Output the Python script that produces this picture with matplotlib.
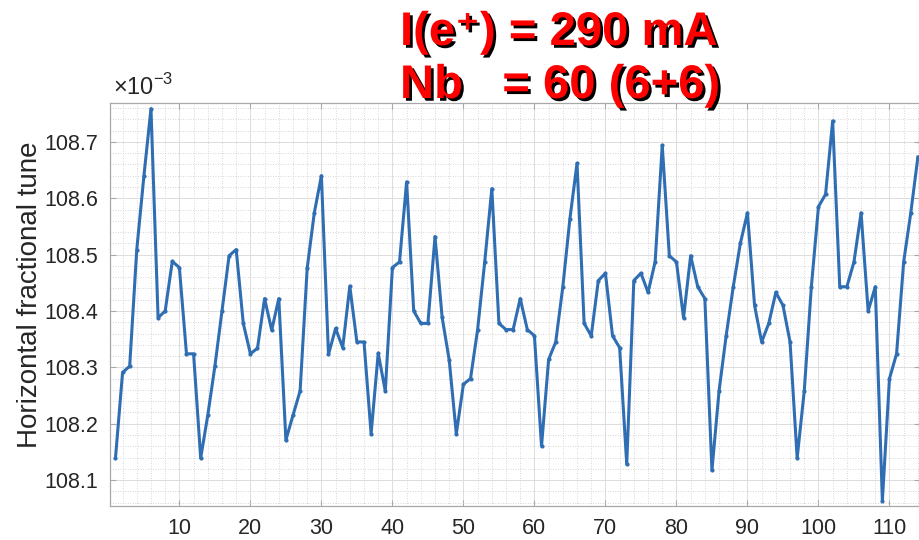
import numpy as np
import matplotlib
matplotlib.use("Agg")
import matplotlib.pyplot as plt
import matplotlib.patheffects as pe
from matplotlib.ticker import MultipleLocator

plt.rcParams['font.family'] = ['Liberation Sans', 'DejaVu Sans']
plt.rcParams['mathtext.fontset'] = 'custom'
plt.rcParams['mathtext.rm'] = 'Liberation Sans'
plt.rcParams['mathtext.bf'] = 'Liberation Sans:bold'

# turn number and horizontal tune (units of 1e-3)
turns = np.arange(1, 115)
tune = [
    108.139, 108.291, 108.302, 108.509, 108.639, 108.759, 108.388, 108.400, 108.488, 108.477,
    108.324, 108.324, 108.139, 108.215, 108.302, 108.400, 108.498, 108.509, 108.378, 108.324,
    108.334, 108.422, 108.366, 108.422, 108.171, 108.215, 108.258, 108.476, 108.574, 108.640,
    108.323, 108.369, 108.335, 108.444, 108.345, 108.345, 108.182, 108.325, 108.258, 108.477,
    108.487, 108.629, 108.400, 108.378, 108.378, 108.532, 108.389, 108.313, 108.182, 108.270,
    108.280, 108.367, 108.487, 108.617, 108.378, 108.367, 108.367, 108.422, 108.367, 108.356,
    108.160, 108.314, 108.345, 108.443, 108.564, 108.662, 108.378, 108.356, 108.454, 108.467,
    108.356, 108.335, 108.128, 108.454, 108.467, 108.433, 108.487, 108.694, 108.498, 108.487,
    108.388, 108.498, 108.443, 108.422, 108.117, 108.258, 108.356, 108.443, 108.520, 108.574,
    108.410, 108.345, 108.378, 108.433, 108.410, 108.345, 108.139, 108.258, 108.443, 108.585,
    108.607, 108.737, 108.443, 108.443, 108.487, 108.574, 108.400, 108.443, 108.063, 108.280,
    108.324, 108.487, 108.574, 108.673,
]
yticks = [108.1, 108.2, 108.3, 108.4, 108.5, 108.6, 108.7]
line1 = "I(e\u207a) = 290 mA"
line2 = "Nb   = 60 (6+6)"

fig = plt.figure(figsize=(9.2, 5.4), dpi=100)
ax = fig.add_axes([110.5 / 920, 34 / 540, (920 - 110.5) / 920, 403 / 540])

ax.plot(turns, tune, color='#2f6eb3', lw=2.2, marker='.', ms=4, zorder=3)

ax.set_xlim(0.3, 114.3)
ax.set_ylim(108.054, 108.769)
ax.xaxis.set_major_locator(MultipleLocator(10))
ax.xaxis.set_minor_locator(MultipleLocator(2))
ax.yaxis.set_minor_locator(MultipleLocator(0.02))
ax.set_yticks(yticks)
ax.set_yticklabels([f"{v:.1f}" for v in yticks])

ax.grid(which='major', color='#dcdcdc', lw=0.7, ls='-')
ax.grid(which='minor', color='#cacaca', lw=0.6, ls=(0, (1, 2)))
ax.set_axisbelow(True)
for s in ax.spines.values():
    s.set_color('#a8a8a8')
    s.set_linewidth(0.9)
ax.tick_params(which='major', direction='in', length=4, width=0.8, color='#a8a8a8',
               top=True, right=True, labelsize=15.5, labelcolor='#262626', pad=9)
ax.tick_params(which='minor', length=0, top=True, right=True)

ax.set_ylabel("Horizontal fractional tune", fontsize=20, color='#262626')
ax.yaxis.set_label_coords(-0.083, 0.525)

fig.text(113 / 920, 1 - 95 / 540, r"$\times10^{-3}$", fontsize=17, color='#262626',
         ha='left', va='baseline')

shadow = [pe.withSimplePatchShadow(offset=(2, -2), shadow_rgbFace='black', alpha=1)]
fig.text(400 / 920, 1 - 45 / 540, line1, fontsize=34, fontweight='bold', color='#ff0000',
         ha='left', va='baseline', path_effects=shadow)
fig.text(400 / 920, 1 - 98 / 540, line2, fontsize=34, fontweight='bold', color='#ff0000',
         ha='left', va='baseline', path_effects=shadow)

fig.savefig("out.png", dpi=100)
